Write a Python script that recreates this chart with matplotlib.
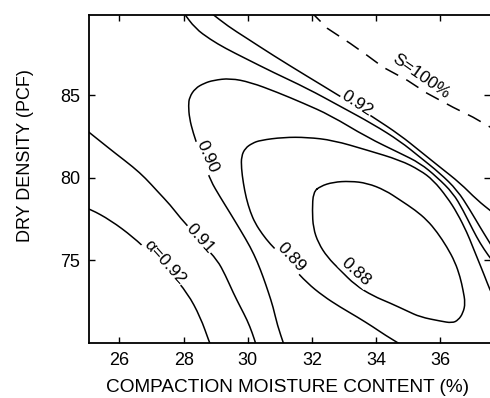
import matplotlib
matplotlib.use("Agg")
import matplotlib.pyplot as plt
from matplotlib.path import Path
from matplotlib.patches import PathPatch

plt.rcParams['font.family'] = ['Liberation Sans', 'DejaVu Sans']

# Contours of alpha versus compaction moisture content (%) and dry density (pcf)
w_092_low = [24.95, 25.09, 25.72, 26.43, 26.96, 27.59, 28.12, 28.52, 28.80, 28.85]
d_092_low = [78.12, 78.09, 77.42, 76.39, 75.42, 74.21, 73.00, 71.55, 70.03, 69.80]

w_091_low = [24.97, 25.40, 25.87, 26.43, 26.81, 27.18, 27.59, 27.90, 28.30, 28.61,
             29.05, 29.30, 29.55, 29.77, 29.98, 30.14, 30.26]
d_091_low = [82.88, 82.21, 81.48, 80.64, 79.97, 79.18, 78.33, 77.55, 76.70, 75.91,
             75.00, 74.09, 73.00, 72.15, 71.36, 70.58, 69.85]

w_090 = [31.14, 30.92, 30.79, 30.64, 30.48, 30.30, 30.08, 29.77, 29.45, 29.14,
         28.83, 28.68, 28.46, 28.30, 28.18, 28.15, 28.18, 28.36, 28.64, 28.93,
         29.45, 30.08, 30.92, 31.73, 32.57, 33.72, 34.75, 35.37, 35.90, 36.40,
         36.71, 37.02, 37.24, 37.49, 37.68]
d_090 = [69.79, 71.06, 72.15, 73.06, 73.97, 74.88, 75.79, 76.82, 77.85, 78.82,
         79.85, 80.76, 81.79, 82.70, 83.61, 84.39, 84.88, 85.42, 85.73, 85.91,
         86.03, 85.79, 85.18, 84.52, 83.79, 82.45, 81.48, 80.88, 80.03, 79.06,
         78.03, 76.82, 76.03, 75.30, 74.82]

w_089 = [34.84, 34.28, 33.91, 33.41, 32.88, 32.35, 31.85, 31.36, 31.01, 30.70,
         30.45, 30.23, 30.08, 29.95, 29.86, 29.80, 29.80, 29.92, 30.14, 30.39,
         31.11, 31.85, 32.66, 33.72, 34.75, 35.37, 35.78, 36.21, 36.53, 36.84,
         36.99, 37.18, 37.37, 37.55, 37.68]
d_089 = [69.79, 70.45, 70.94, 71.55, 72.15, 72.82, 73.61, 74.64, 75.36, 75.97,
         76.58, 77.24, 77.91, 78.76, 79.67, 80.58, 81.30, 81.79, 82.09, 82.27,
         82.45, 82.45, 82.27, 81.67, 81.06, 80.45, 79.85, 78.82, 77.85, 76.64,
         75.91, 75.00, 74.09, 73.18, 72.70]

w_088 = [32.04, 32.26, 32.66, 33.19, 33.72, 34.28, 34.75, 35.22, 35.59, 35.90,
         36.21, 36.46, 36.62, 36.71, 36.78, 36.71, 36.56, 36.37, 36.00, 35.37,
         34.97, 34.44, 33.91, 33.35, 32.88, 32.48, 32.20, 32.04, 32.01, 32.04]
d_088 = [79.12, 79.48, 79.73, 79.79, 79.67, 79.24, 78.64, 78.03, 77.42, 76.70,
         75.79, 74.88, 73.97, 73.18, 72.39, 71.79, 71.36, 71.18, 71.30, 71.55,
         71.91, 72.39, 72.82, 73.48, 74.39, 75.18, 76.03, 76.94, 78.03, 79.12]

w_091_up = [27.99, 28.36, 28.83, 29.30, 29.92, 30.79, 31.85, 32.88, 33.91, 34.75,
            35.37, 35.99, 36.53, 36.93, 37.24, 37.49, 37.68]
d_091_up = [90.03, 89.06, 88.39, 87.85, 87.24, 86.39, 85.42, 84.33, 83.24, 82.21,
            81.24, 80.27, 79.24, 78.03, 77.00, 76.21, 75.61]

w_092_up = [28.83, 29.39, 29.92, 30.79, 31.85, 32.88, 33.91, 34.75, 35.37, 35.99,
            36.62, 37.15, 37.62]
d_092_up = [90.03, 89.18, 88.52, 87.42, 86.15, 84.94, 83.67, 82.58, 81.61, 80.64,
            79.67, 78.64, 77.91]

# Zero air voids (100% saturation) curve
w_sat = [31.95, 32.48, 33.19, 33.72, 34.22, 34.97, 35.59, 36.40, 37.02, 37.60]
d_sat = [90.10, 89.06, 88.15, 87.42, 86.70, 85.91, 85.12, 84.27, 83.67, 83.02]

# Contour labels: text, moisture, density, rotation
label_text = ["\u03b1=0.92", "0.91", "0.90", "0.89", "0.88", "0.92"]
label_w = [27.40, 28.52, 28.74, 31.36, 33.38, 33.41]
label_d = [74.88, 76.33, 81.30, 75.18, 74.27, 84.52]
label_rot = [-48, -48, -66, -47, -42, -33]

x_ticks = [26, 28, 30, 32, 34, 36]
y_ticks = [75, 80, 85]


def smooth_path(xs, ys, closed=False):
    """Quadratic B-spline path through the midpoints of the given vertices."""
    pts = list(zip(xs, ys))
    mid = lambda a, b: ((a[0] + b[0]) / 2, (a[1] + b[1]) / 2)
    verts, codes = [], []
    if closed:
        pts = pts[:-1]
        n = len(pts)
        verts.append(mid(pts[0], pts[1]))
        codes.append(Path.MOVETO)
        for i in range(1, n + 1):
            c = pts[i % n]
            e = mid(pts[i % n], pts[(i + 1) % n])
            verts += [c, e]
            codes += [Path.CURVE3, Path.CURVE3]
    else:
        verts += [pts[0], mid(pts[0], pts[1])]
        codes += [Path.MOVETO, Path.LINETO]
        for i in range(1, len(pts) - 1):
            verts += [pts[i], mid(pts[i], pts[i + 1])]
            codes += [Path.CURVE3, Path.CURVE3]
        verts.append(pts[-1])
        codes.append(Path.LINETO)
    return Path(verts, codes)


fig = plt.figure(figsize=(4.9, 3.98), dpi=100)
ax = fig.add_axes([89 / 490, 55.5 / 398, 401 / 490, 328 / 398])

lw = 1.1
curves = [(w_092_low, d_092_low, False), (w_091_low, d_091_low, False),
          (w_090, d_090, False), (w_089, d_089, False), (w_088, d_088, True),
          (w_091_up, d_091_up, False), (w_092_up, d_092_up, False)]
for w, d, closed in curves:
    ax.add_patch(PathPatch(smooth_path(w, d, closed), facecolor='none',
                           edgecolor='black', lw=lw, capstyle='round',
                           joinstyle='round', zorder=2))

ax.plot(w_sat, d_sat, color='black', lw=lw, dashes=(9.5, 6), zorder=2)

for t, x, y, r in zip(label_text, label_w, label_d, label_rot):
    ax.text(x, y, t, rotation=r, rotation_mode='anchor', ha='center', va='center',
            fontsize=12.5, zorder=3,
            bbox=dict(facecolor='white', edgecolor='none', pad=0.6))

ax.text(35.40, 86.15, "S=100%", rotation=-35, rotation_mode='anchor',
        ha='center', va='center', fontsize=12.5, zorder=3)

ax.set_xlim(25.05, 37.55)
ax.set_ylim(70.0, 89.9)
ax.set_xticks(x_ticks)
ax.set_yticks(y_ticks)
ax.tick_params(direction='in', length=4, width=1.0, labelsize=13, pad=6.5,
               top=True, right=True)
for side in ['left', 'bottom', 'top']:
    ax.spines[side].set_linewidth(1.3)
ax.spines['right'].set_visible(False)

fig.text(287 / 490, 1 - 387 / 398, "COMPACTION MOISTURE CONTENT (%)",
         ha='center', va='center', fontsize=13.7)
fig.text(25 / 490, 1 - 156 / 398, "DRY DENSITY (PCF)", rotation=90,
         ha='center', va='center', fontsize=13)

fig.savefig("out.png", dpi=100)
